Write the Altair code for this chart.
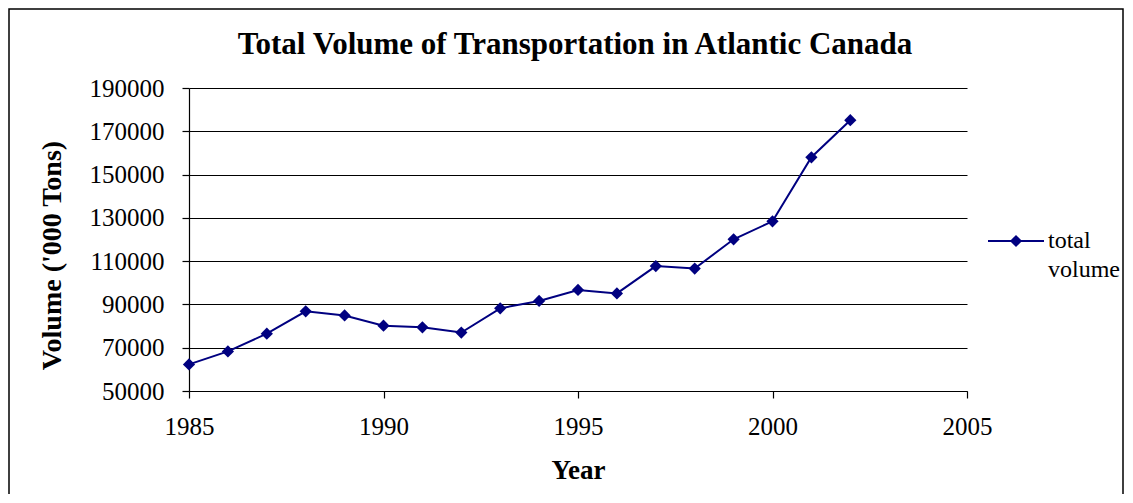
import altair as alt
import pandas as pd

years = [1985, 1986, 1987, 1988, 1989, 1990, 1991, 1992, 1993, 1994,
         1995, 1996, 1997, 1998, 1999, 2000, 2001, 2002]
volume = [62300, 68300, 76500, 86800, 84900, 80200, 79400, 77000, 88200, 91600,
          96700, 95100, 107700, 106600, 120100, 128400, 158000, 175100]
series = ["total volume"] * len(years)
x_ticks = [1985, 1990, 1995, 2000, 2005]
y_ticks = [50000, 70000, 90000, 110000, 130000, 150000, 170000, 190000]
title_text = "Total Volume of Transportation in Atlantic Canada"
legend_lines = ["total", "volume"]

df = pd.DataFrame({"year": years, "volume": volume, "series": series})

FONT = "Liberation Serif"
NAVY = "#000080"

x_enc = alt.X("year:Q",
              scale=alt.Scale(domain=[1985, 2005], nice=False, zero=False),
              axis=alt.Axis(values=x_ticks, format="d", grid=False, title="Year",
                            tickSize=7, labelPadding=16, titlePadding=18,
                            labelFlush=False, titleFontSize=27))
y_enc = alt.Y("volume:Q",
              scale=alt.Scale(domain=[50000, 190000], nice=False, zero=False),
              axis=alt.Axis(values=y_ticks, format="d", grid=True,
                            title="Volume ('000 Tons)", tickSize=7,
                            labelPadding=18, titleFontSize=28,
                            titleX=-137, titleY=167, titleAngle=270,
                            titleAlign="center", titleBaseline="middle"))
color_enc = alt.Color("series:N",
                      scale=alt.Scale(domain=["total volume"], range=[NAVY]),
                      legend=None)

base = alt.Chart(df)
line = base.mark_line(strokeWidth=2).encode(x=x_enc, y=y_enc, color=color_enc)
pts = base.mark_point(shape="diamond", filled=True, size=150, opacity=1).encode(
    x=x_enc, y=y_enc, color=color_enc)

one = pd.DataFrame({"t": [title_text]})
border = alt.Chart(one).mark_rect(
    fill=None, stroke="#000", strokeWidth=1.5, clip=False).encode(
    x=alt.value(-180), x2=alt.value(934), y=alt.value(-79), y2=alt.value(430))
title = alt.Chart(one).mark_text(
    font=FONT, fontSize=31, fontWeight="bold", color="#000",
    align="center", baseline="middle", clip=False).encode(
    text="t:N", x=alt.value(386), y=alt.value(-43))

# manual legend
leg_df = pd.DataFrame({"series": ["total volume"]})
leg_line = alt.Chart(leg_df).mark_rule(strokeWidth=2, clip=False).encode(
    x=alt.value(799), x2=alt.value(855), y=alt.value(153), color=color_enc)
leg_pt = alt.Chart(leg_df).mark_point(shape="diamond", filled=True, size=150,
                                      opacity=1, clip=False).encode(
    x=alt.value(827), y=alt.value(153), color=color_enc)
leg_txt1 = alt.Chart(pd.DataFrame({"t": [legend_lines[0]]})).mark_text(
    font=FONT, fontSize=24, color="#000", align="left", baseline="middle",
    clip=False).encode(text="t:N", x=alt.value(859), y=alt.value(153))
leg_txt2 = alt.Chart(pd.DataFrame({"t": [legend_lines[1]]})).mark_text(
    font=FONT, fontSize=24, color="#000", align="left", baseline="middle",
    clip=False).encode(text="t:N", x=alt.value(859), y=alt.value(182))

chart = alt.layer(border, title, line, pts, leg_line, leg_pt, leg_txt1, leg_txt2).properties(
    width=778, height=303,
    background="white",
    autosize=alt.AutoSizeParams(type="none"),
    padding={"left": 181, "top": 80, "right": 157, "bottom": 103},
).configure_view(stroke=None).configure_axis(
    labelFont=FONT, labelFontSize=25, labelColor="#000",
    titleFont=FONT, titleFontWeight="bold", titleColor="#000",
    domainColor="#000", tickColor="#000", gridColor="#000", gridWidth=1,
    domainWidth=1.2, tickWidth=1.2,
)

chart.save("out.html", embed_options={"renderer": "svg", "actions": False})
